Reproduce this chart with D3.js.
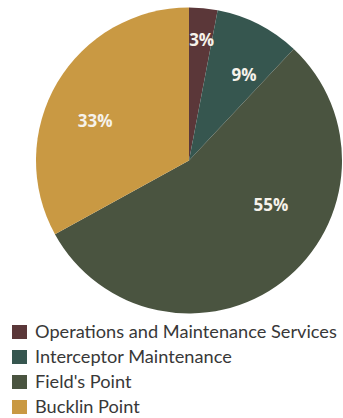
<!DOCTYPE html>
<html>
<head>
<meta charset="utf-8">
<script src="https://cdn.jsdelivr.net/npm/d3@7/dist/d3.min.js"></script>
<style>
  html, body { margin: 0; padding: 0; background: #fff; }
  svg { display: block; }
</style>
</head>
<body>
<svg id="chart" width="343" height="418"></svg>
<script>
// Budget share by program area (percent)
const categories = ["Operations and Maintenance Services", "Interceptor Maintenance", "Field's Point", "Bucklin Point"];
const values = [3, 9, 55, 33];
const colors = ["#5b3739", "#36564f", "#4a5440", "#c99943"];

const width = 343, height = 418;
const cx = 189, cy = 160.5, radius = 153;

// Label placement tweaks (angle shift in degrees, radius) per slice
const labelAngleShift = [0.6, 5.6, -24, -7.6];
const labelRadius = [121, 102, 93, 102];

const svg = d3.select("#chart");

const pie = d3.pie().sort(null).value(d => d.value);
const arcs = pie(categories.map((c, i) => ({ name: c, value: values[i], color: colors[i] })));

const arc = d3.arc().innerRadius(0).outerRadius(radius);

const g = svg.append("g").attr("transform", `translate(${cx},${cy})`);

g.selectAll("path.slice")
  .data(arcs)
  .join("path")
  .attr("class", "slice")
  .attr("d", arc)
  .attr("fill", d => d.data.color);

g.selectAll("text.pct")
  .data(arcs)
  .join("text")
  .attr("class", "pct")
  .attr("transform", (d, i) => {
    const a = (d.startAngle + d.endAngle) / 2 + labelAngleShift[i] * Math.PI / 180;
    const r = labelRadius[i];
    return `translate(${r * Math.sin(a)},${-r * Math.cos(a)})`;
  })
  .attr("text-anchor", "middle")
  .attr("dy", "0.36em")
  .attr("fill", "#f6f2ea")
  .style("font-family", "'Open Sans', sans-serif")
  .style("font-weight", "700")
  .style("font-size", "17px")
  .text(d => d.data.value + "%");

// Legend
const legend = svg.append("g").attr("transform", "translate(12,332)");
const rowH = 25;
const items = legend.selectAll("g.item")
  .data(arcs)
  .join("g")
  .attr("class", "item")
  .attr("transform", (d, i) => `translate(0,${i * rowH})`);

items.append("rect")
  .attr("x", 0).attr("y", -7)
  .attr("width", 15).attr("height", 14)
  .attr("fill", d => d.data.color);

items.append("text")
  .attr("x", 23)
  .attr("dy", "0.35em")
  .attr("fill", "#383838")
  .style("font-family", "Lato, 'Open Sans', sans-serif")
  .style("font-size", "18.2px")
  .text(d => d.data.name);
</script>
</body>
</html>
